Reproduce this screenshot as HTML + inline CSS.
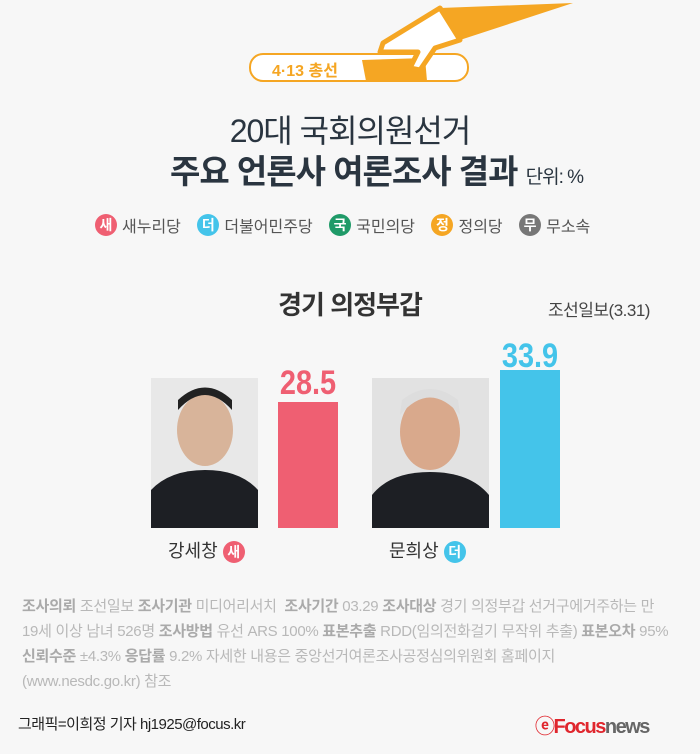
<!DOCTYPE html>
<html><head><meta charset="utf-8"><style>
body{margin:0;width:700px;height:754px;background:#f7f7f7;font-family:"Liberation Sans","Noto Sans CJK KR",sans-serif;position:relative;overflow:hidden}
.a{position:absolute;white-space:nowrap}
.b{display:inline-block;width:22px;height:22px;border-radius:50%;color:#fff;font-weight:bold;font-size:14px;text-align:center;line-height:22px;vertical-align:middle;margin-right:5px}
.lg{font-size:16px;color:#555;margin-right:12px;vertical-align:middle}
.fn{font-size:15px;color:#b8b8b8;letter-spacing:-0.3px}
.fn b{color:#aaa}
.v{transform:scaleX(0.85);transform-origin:center}
</style></head><body>
<svg class="a" style="left:0;top:0" width="700" height="100">
<polygon points="440,8 573,3 460,40" fill="#f5a623"/>
<rect x="250" y="54" width="218" height="27" rx="13" fill="#fff" stroke="#f5a623" stroke-width="2"/>
<polygon points="362,60 425,58 427,81 366,81" fill="#f5a623"/>
<path d="M383,43 L440,8 L460,40 L435,48 L420,70 L410,68 L418,52 L380,52 Z" fill="#fff" stroke="#f5a623" stroke-width="5" stroke-linejoin="round"/>
</svg>
<div class="a" style="left:272px;top:57px;font-size:16px;font-weight:bold;color:#f5a623">4·13 총선</div>
<div class="a" style="left:0;width:700px;text-align:center;top:106px;font-size:32px;color:#2a3540;letter-spacing:-1px">20대 국회의원선거</div>
<div class="a" style="left:170px;top:145px;font-size:33px;font-weight:bold;color:#2a3540;letter-spacing:-1px">주요 언론사 여론조사 결과 <span style="font-size:19px;font-weight:normal">단위: %</span></div>
<div class="a" style="left:95px;top:213px">
<span class="b" style="background:#ef5f72">새</span><span class="lg">새누리당</span>
<span class="b" style="background:#44c4ea">더</span><span class="lg">더불어민주당</span>
<span class="b" style="background:#1f9a68">국</span><span class="lg">국민의당</span>
<span class="b" style="background:#f5a623">정</span><span class="lg">정의당</span>
<span class="b" style="background:#777">무</span><span class="lg">무소속</span></div>
<div class="a" style="left:0;width:700px;text-align:center;top:285px;font-size:26px;font-weight:bold;color:#333;letter-spacing:-1px">경기 의정부갑</div>
<div class="a" style="left:548px;top:296px;font-size:17px;color:#444;letter-spacing:-0.5px">조선일보(3.31)</div>
<svg class="a" style="left:0;top:370px" width="700" height="160">
<rect x="151" y="8" width="107" height="150" fill="#e8e8e8"/>
<ellipse cx="205" cy="60" rx="28" ry="36" fill="#d8b49a"/>
<path d="M178,40 Q205,10 232,40 L232,30 Q205,5 178,30Z" fill="#222"/>
<path d="M151,158 L151,120 Q170,100 205,100 Q240,100 258,120 L258,158Z" fill="#1d1f24"/>
<rect x="372" y="8" width="117" height="150" fill="#e2e2e2"/>
<ellipse cx="430" cy="62" rx="30" ry="38" fill="#d9a98c"/>
<path d="M400,45 Q430,10 460,45 L458,30 Q430,8 402,30Z" fill="#ddd"/>
<path d="M372,158 L372,125 Q390,102 430,102 Q470,102 489,125 L489,158Z" fill="#1d1f24"/>
<rect x="278" y="32" width="60" height="126" fill="#ef5f72"/>
<rect x="500" y="-27" width="60" height="185" fill="#44c4ea"/>
</svg>
<div class="a v" style="left:268px;width:80px;text-align:center;top:364px;font-size:34px;font-weight:bold;color:#ef5f72">28.5</div>
<div class="a v" style="left:490px;width:80px;text-align:center;top:337px;font-size:34px;font-weight:bold;color:#44c4ea">33.9</div>
<div class="a" style="left:168px;top:537px;font-size:18px;color:#333">강세창 <span class="b" style="background:#ef5f72">새</span></div>
<div class="a" style="left:389px;top:537px;font-size:18px;color:#333">문희상 <span class="b" style="background:#44c4ea">더</span></div>
<div class="a fn" style="left:22px;top:595px"><b>조사의뢰</b> 조선일보 <b>조사기관</b> 미디어리서치 &nbsp;<b>조사기간</b> 03.29 <b>조사대상</b> 경기 의정부갑 선거구에거주하는 만</div>
<div class="a fn" style="left:22px;top:620px">19세 이상 남녀 526명 <b>조사방법</b> 유선 ARS 100% <b>표본추출</b> RDD(임의전화걸기 무작위 추출) <b>표본오차</b> 95%</div>
<div class="a fn" style="left:22px;top:645px"><b>신뢰수준</b> ±4.3% <b>응답률</b> 9.2% 자세한 내용은 중앙선거여론조사공정심의위원회 홈페이지</div>
<div class="a fn" style="left:22px;top:670px">(www.nesdc.go.kr) 참조</div>
<div class="a" style="left:18px;top:713px;font-size:15px;color:#222;letter-spacing:-0.5px">그래픽=이희정 기자 hj1925@focus.kr</div>
<div class="a" style="left:535px;top:710px;font-size:20px;font-weight:bold;letter-spacing:-1.5px"><span style="color:#e0262d">ⓔFocus</span><span style="color:#666">news</span></div>
</body></html>
